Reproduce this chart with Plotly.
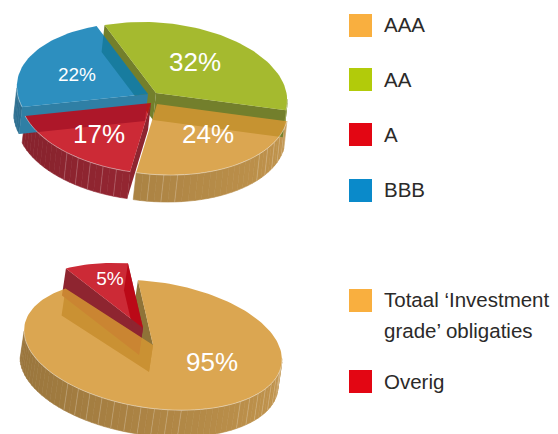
import math
import plotly.graph_objects as go

# ---- data ----
categories_top = ["AAA", "AA", "A", "BBB"]
values_top = [24, 32, 17, 22]
categories_bottom = ["Totaal ‘Investment grade’ obligaties", "Overig"]
values_bottom = [95, 5]

legend_lines_top = [["AAA"], ["AA"], ["A"], ["BBB"]]
legend_lines_bottom = [["Totaal ‘Investment", "grade’ obligaties"], ["Overig"]]

# ---- styles ----
FONT = "Liberation Sans"
ALPHA = 0.85
LEGEND_COL = {"AAA": "#F9AF3F", "AA": "#B2CB0A", "A": "#E30613", "BBB": "#0A8ACA",
              categories_bottom[0]: "#F9AF3F", "Overig": "#E30613"}
TOP_RGB = {"o": (213, 151, 50), "g": (149, 174, 10), "r": (195, 5, 19), "b": (8, 123, 180)}
SIDE_RGB = {"o": (192, 147, 76), "g": (130, 145, 50), "r": (167, 43, 56), "b": (57, 138, 179)}
RADIAL = {"o": "#8F7338", "g": "#737F2C", "r": "#8E2530", "b": "#2F7FA5"}

pie_top = dict(
    a=131.5, b=70.5, tilt=4.5, start=115.5, depth=(-3, 27), min_angle=0,
    order=[1, 0, 2, 3], keys=["o", "g", "r", "b"], pad=[0, 0, 0, 0],
    centres=[(157, 104), (156, 93), (151, 103), (148, 94)],
    ribs=[(60, 128), (135, 187), (253, 292)], xspan=(15, 290),
    labels=[(208, 136, 26), (195, 64, 26), (99, 136, 26), (77, 76, 19)],
    skip_walls={(0, 0), (0, 1), (2, 1), (3, 1)},
)
pie_bottom = dict(
    a=130, b=63, tilt=8.4, start=100.8, depth=(-4, 27), min_angle=30,
    order=[0, 1], keys=["o", "r"], pad=[6, 0],
    centres=[(153, 345), (143, 328)],
    ribs=[(60, 183), (235, 285)], xspan=(20, 285),
    labels=[(212, 364, 26), (110, 280, 19)],
    skip_walls=set(),
)

legend_sq_top = [25.5, 79.5, 134.5, 190.5]
legend_sq_bottom = [300.5, 381.5]
legend_txt_top = [[26.5], [81.5], [136.5], [191.5]]
legend_txt_bottom = [[301.5, 333], [384]]
SQ_X, TXT_X = 360.5, 384

fig = go.Figure()


def rgba(rgb, alpha=1.0):
    return f"rgba({rgb[0]:.0f},{rgb[1]:.0f},{rgb[2]:.0f},{alpha})"


def poly(pts, fill, line=None):
    fig.add_trace(go.Scatter(
        x=[p[0] for p in pts] + [pts[0][0]], y=[p[1] for p in pts] + [pts[0][1]],
        mode="lines", fill="toself", fillcolor=fill,
        line=dict(width=0.6 if line else 0, color=line or "rgba(0,0,0,0)"),
        hoverinfo="skip", showlegend=False))


def draw_pie(values, p):
    phi = math.radians(p["tilt"])
    cp, sp = math.cos(phi), math.sin(phi)
    a, b = p["a"], p["b"]
    dx, dy = p["depth"]

    def pt(c, t):
        r = math.radians(t)
        lx, ly = a * math.cos(r), -b * math.sin(r)
        return (c[0] + lx * cp - ly * sp, c[1] + lx * sp + ly * cp)

    def facing(t):
        r = math.radians(t)
        return math.cos(r) / a * sp - math.sin(r) / b * cp > 0

    # sweeps run clockwise from the start angle, in p["order"]
    total = sum(values)
    sweeps = [max(v / total * 360, p["min_angle"]) for v in values]
    excess = sum(sweeps) - 360
    big = sweeps.index(max(sweeps))
    sweeps[big] -= excess
    spans = {}
    t = p["start"]
    for i in p["order"]:
        spans[i] = (t, t - sweeps[i] + p["pad"][i])
        t -= sweeps[i]

    rib_x, rib_y, edge_x, edge_y = [], [], [], []
    # walls first: the translucent tops lie over them
    for i in p["order"]:
        c = p["centres"][i]
        k = p["keys"][i]
        t0, t1 = spans[i]
        n = max(2, int(abs(t0 - t1) / 3))
        for j in range(n):
            ta = t0 + (t1 - t0) * j / n
            tb = t0 + (t1 - t0) * (j + 1) / n
            if not facing((ta + tb) / 2):
                continue
            A, B = pt(c, ta), pt(c, tb)
            f = 0.8 + 0.2 * (((A[0] + B[0]) / 2 - p["xspan"][0]) / (p["xspan"][1] - p["xspan"][0]))
            col = rgba([v * f for v in SIDE_RGB[k]])
            poly([A, B, (B[0] + dx, B[1] + dy), (A[0] + dx, A[1] + dy)], col, col)
            edge_x += [A[0], B[0], None]
            edge_y += [A[1], B[1], None]
            if j % 2 == 0 and any(lo <= A[0] <= hi for lo, hi in p["ribs"]):
                rib_x += [A[0], A[0] + dx, None]
                rib_y += [A[1], A[1] + dy, None]
    for i in p["order"]:
        c = p["centres"][i]
        k = p["keys"][i]
        for w, te in enumerate(spans[i]):
            if (i, w) in p["skip_walls"]:
                continue
            E = pt(c, te)
            poly([c, E, (E[0] + dx, E[1] + dy), (c[0] + dx, c[1] + dy)], RADIAL[k])
    fig.add_trace(go.Scatter(x=rib_x, y=rib_y, mode="lines",
                             line=dict(width=0.8, color="rgba(255,255,255,0.25)"),
                             hoverinfo="skip", showlegend=False))
    for i in p["order"]:
        c = p["centres"][i]
        t0, t1 = spans[i]
        n = max(4, int(abs(t0 - t1) / 2))
        arc = [pt(c, t0 + (t1 - t0) * j / n) for j in range(n + 1)]
        poly([c] + arc, rgba(TOP_RGB[p["keys"][i]], ALPHA))
    fig.add_trace(go.Scatter(x=edge_x, y=edge_y, mode="lines",
                             line=dict(width=0.8, color="rgba(255,255,255,0.55)"),
                             hoverinfo="skip", showlegend=False))
    for i, (x, y, size) in enumerate(p["labels"]):
        fig.add_trace(go.Scatter(x=[x], y=[y], mode="text", text=[f"{values[i]}%"],
                                 textposition="middle center",
                                 textfont=dict(family=FONT, size=size, color="white"),
                                 hoverinfo="skip", showlegend=False))


def draw_legend(cats, sq_y, lines, line_y):
    for cat, y, ls, ys in zip(cats, sq_y, lines, line_y):
        fig.add_trace(go.Scatter(x=[SQ_X], y=[y], mode="markers", name=cat,
                                 marker=dict(symbol="square", size=23, color=LEGEND_COL[cat],
                                             line=dict(width=0)),
                                 hoverinfo="name", showlegend=False))
        fig.add_trace(go.Scatter(x=[TXT_X] * len(ls), y=ys, mode="text", text=ls,
                                 textposition="middle right",
                                 textfont=dict(family=FONT, size=20.5, color="#2b2a29"),
                                 hoverinfo="skip", showlegend=False))


draw_pie(values_top, pie_top)
draw_pie(values_bottom, pie_bottom)
draw_legend(categories_top, legend_sq_top, legend_lines_top, legend_txt_top)
draw_legend(categories_bottom, legend_sq_bottom, legend_lines_bottom, legend_txt_bottom)

fig.update_layout(
    width=558, height=434, margin=dict(l=0, r=0, t=0, b=0),
    paper_bgcolor="white", plot_bgcolor="white", showlegend=False,
    xaxis=dict(range=[0, 558], visible=False, fixedrange=True),
    yaxis=dict(range=[434, 0], visible=False, fixedrange=True),
)
fig.write_html("out.html", config={"displayModeBar": False},
               post_script="document.body.style.margin='0';document.body.style.overflow='hidden';")
